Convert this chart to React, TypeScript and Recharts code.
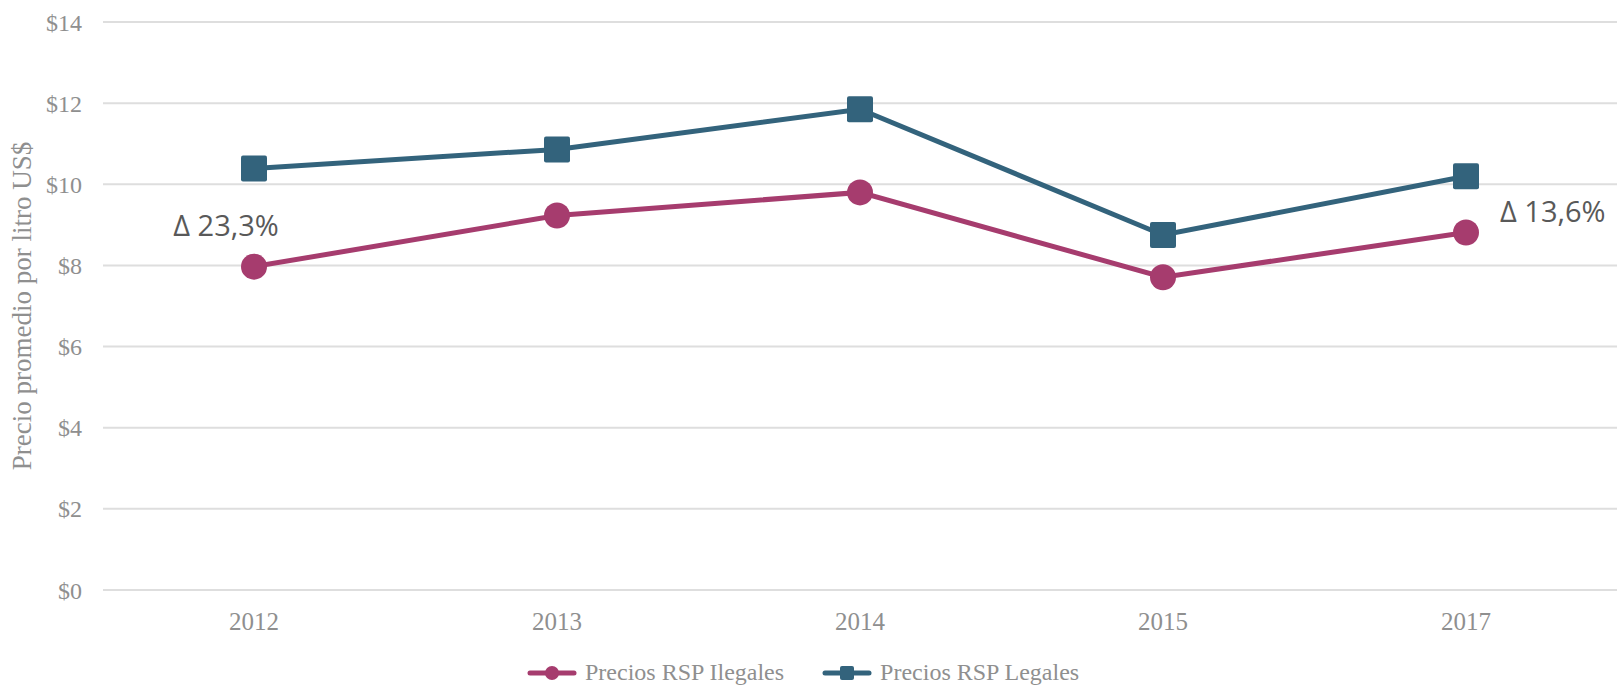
import { LineChart, Line, XAxis, YAxis, CartesianGrid, LabelList } from "recharts";

const YEARS = ["2012", "2013", "2014", "2015", "2017"];
const ILEGALES = [7.97, 9.23, 9.8, 7.71, 8.81];
const LEGALES = [10.39, 10.86, 11.85, 8.75, 10.2];
const DELTAS = ["Δ 23,3%", "", "", "", "Δ 13,6%"];
const Y_TICKS = [0, 2, 4, 6, 8, 10, 12, 14];

const PINK = "#a63c6e";
const BLUE = "#33637c";
const GREY_TEXT = "#8f8f8f";
const SERIF = "'Liberation Serif', 'DejaVu Serif', serif";

const data = YEARS.map((y, i) => ({ year: y, ilegales: ILEGALES[i], legales: LEGALES[i], delta: DELTAS[i] }));

function SquareDot({ cx, cy }: { cx?: number; cy?: number }) {
  if (cx == null || cy == null) return null;
  return <rect x={cx - 13} y={cy - 13} width={26} height={26} rx={2} fill={BLUE} />;
}

function CircleDot({ cx, cy }: { cx?: number; cy?: number }) {
  if (cx == null || cy == null) return null;
  return <circle cx={cx} cy={cy} r={13} fill={PINK} />;
}

function DeltaLabel(props: any) {
  const { x, y, value, index } = props;
  if (!value) return null;
  const first = index === 0;
  return (
    <text
      x={first ? x - 28 : x + 34}
      y={first ? y - 42 : y - 22}
      textAnchor={first ? "middle" : "start"}
      dominantBaseline="central"
      fill="#595959"
      fontSize={29}
      fontFamily="'Open Sans', 'Noto Sans', sans-serif"
    >
      {value}
    </text>
  );
}

function YTitle({ viewBox }: any) {
  const cy = viewBox.y + viewBox.height / 2;
  return (
    <text
      x={0}
      y={0}
      transform={`translate(22, ${cy}) rotate(-90)`}
      textAnchor="middle"
      dominantBaseline="central"
      fill={GREY_TEXT}
      fontSize={27}
      fontFamily={SERIF}
    >
      Precio promedio por litro US$
    </text>
  );
}

function LegendItem({ color, square, label }: { color: string; square?: boolean; label: string }) {
  return (
    <div style={{ display: "flex", alignItems: "center", marginRight: 38 }}>
      <svg width={50} height={18}>
        <line x1={3} y1={9} x2={47} y2={9} stroke={color} strokeWidth={5} strokeLinecap="round" />
        {square ? <rect x={18} y={2} width={14} height={14} rx={2} fill={color} /> : <circle cx={25} cy={9} r={7} fill={color} />}
      </svg>
      <span style={{ color: GREY_TEXT, fontFamily: SERIF, fontSize: 24, marginLeft: 8 }}>{label}</span>
    </div>
  );
}

export default function App() {
  return (
    <div style={{ position: "relative", width: 1617, height: 687, background: "#fff" }}>
      <style>{`body{margin:0}`}</style>
      <LineChart width={1617} height={687} data={data} margin={{ top: 22, right: 0, left: 0, bottom: 57 }}>
        <CartesianGrid vertical={false} stroke="#dedede" strokeWidth={2} />
        <XAxis
          dataKey="year"
          axisLine={false}
          tickLine={false}
          tickMargin={16}
          height={40}
          padding={{ left: 151, right: 151 }}
          tick={{ fill: GREY_TEXT, fontSize: 25, fontFamily: SERIF }}
        />
        <YAxis
          domain={[0, 14]}
          ticks={Y_TICKS}
          tickFormatter={(v) => "$" + v}
          axisLine={false}
          tickLine={false}
          tickMargin={15}
          width={103}
          tick={{ fill: GREY_TEXT, fontSize: 24, fontFamily: SERIF }}
          label={{ content: <YTitle /> }}
        />
        <Line
          dataKey="ilegales"
          name="Precios RSP Ilegales"
          stroke={PINK}
          strokeWidth={5}
          dot={<CircleDot />}
          activeDot={false}
          isAnimationActive={false}
        >
          <LabelList dataKey="delta" content={<DeltaLabel />} />
        </Line>
        <Line
          dataKey="legales"
          name="Precios RSP Legales"
          stroke={BLUE}
          strokeWidth={5}
          dot={<SquareDot />}
          activeDot={false}
          isAnimationActive={false}
        />
      </LineChart>
      <div style={{ position: "absolute", left: 527, top: 659, display: "flex" }}>
        <LegendItem color={PINK} label="Precios RSP Ilegales" />
        <LegendItem color={BLUE} square label="Precios RSP Legales" />
      </div>
    </div>
  );
}
